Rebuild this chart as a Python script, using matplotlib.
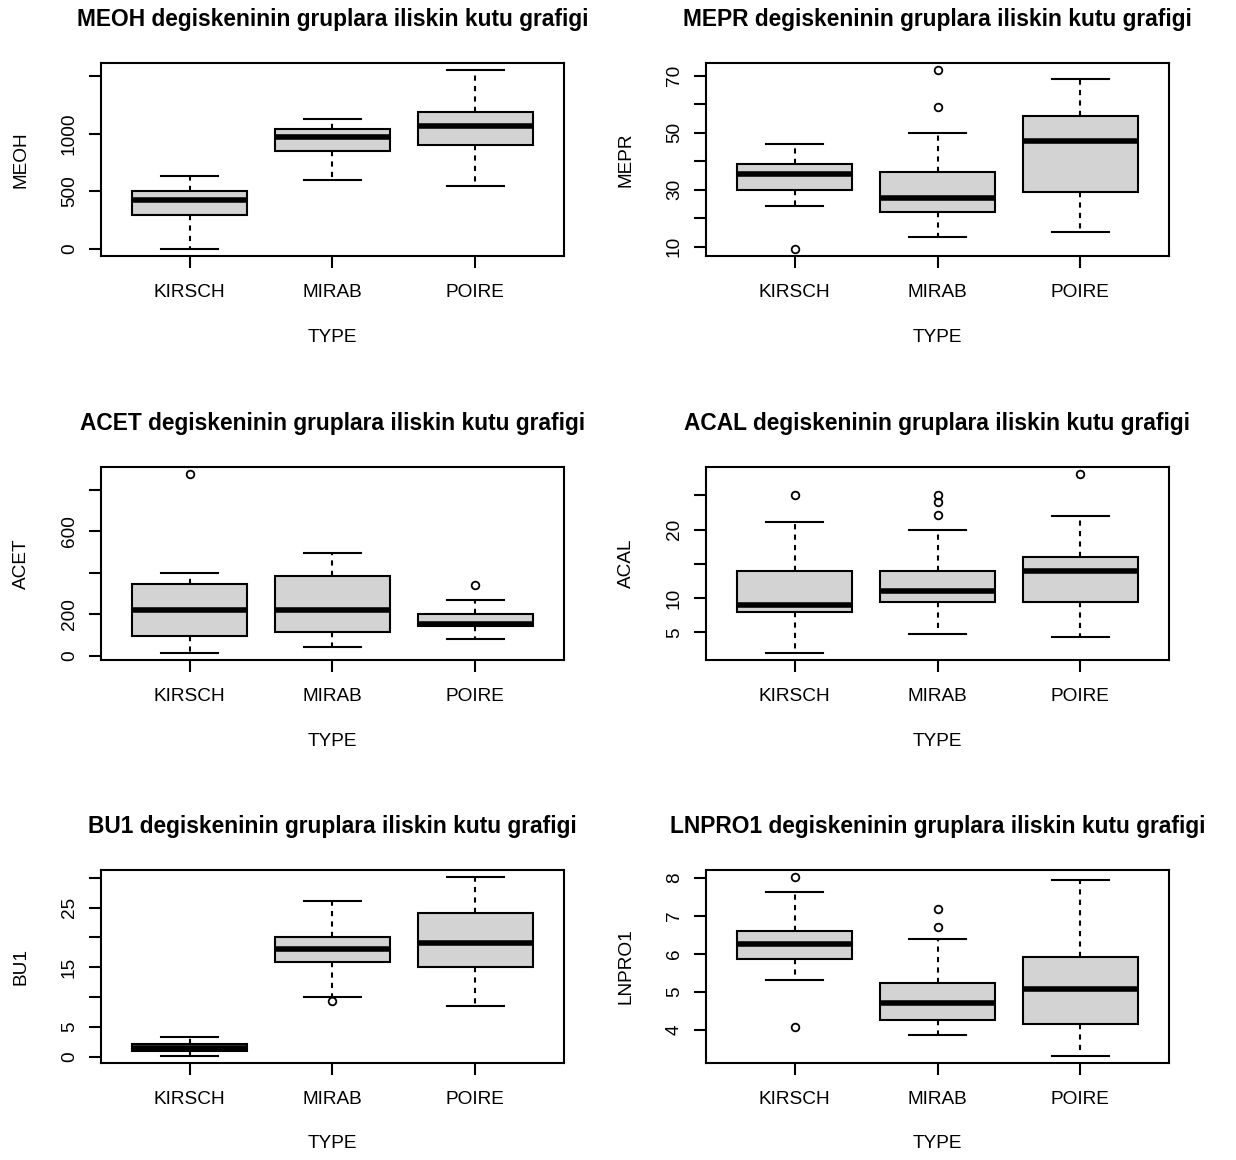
import matplotlib
matplotlib.use("Agg")
import matplotlib.pyplot as plt

plt.rcParams["font.family"] = ["Liberation Sans", "DejaVu Sans"]

groups = ["KIRSCH", "MIRAB", "POIRE"]

# five-number summaries per group: whisker low, Q1, median, Q3, whisker high
meoh_five = [[0, 291, 421, 499, 634], [594, 847, 968, 1043, 1124], [545, 899, 1066, 1190, 1550]]
meoh_out = [[], [], []]

mepr_five = [[24.2, 30.0, 35.6, 39.1, 46.0], [13.2, 22.0, 27.1, 36.1, 50.0], [15.1, 29.1, 47.1, 56.0, 68.9]]
mepr_out = [[9.2], [59.0, 72.0], []]

acet_five = [[14, 96, 222, 344, 398], [42, 115, 218, 382, 496], [80, 142, 155, 203, 269]]
acet_out = [[874], [], [339]]

acal_five = [[2.0, 7.9, 9.0, 14.0, 21.1], [4.7, 9.5, 11.0, 14.0, 20.0], [4.3, 9.5, 14.0, 16.0, 22.0]]
acal_out = [[25.0], [22.1, 24.1, 25.0], [28.1]]

bu1_five = [[0.17, 0.9, 1.5, 2.2, 3.3], [10.05, 15.9, 18.1, 20.0, 26.1], [8.6, 15.0, 19.1, 24.1, 30.1]]
bu1_out = [[], [9.3], []]

lnpro1_five = [[5.32, 5.86, 6.26, 6.60, 7.64], [3.85, 4.25, 4.69, 5.22, 6.40], [3.31, 4.14, 5.06, 5.92, 7.94]]
lnpro1_out = [[4.08, 8.02], [6.71, 7.18], []]

# y ticks and their printed labels (empty where R drops a crowded label)
meoh_ticks, meoh_labels = [0, 500, 1000, 1500], ["0", "500", "1000", ""]
mepr_ticks, mepr_labels = [10, 20, 30, 40, 50, 60, 70], ["10", "", "30", "", "50", "", "70"]
acet_ticks, acet_labels = [0, 200, 400, 600, 800], ["0", "200", "", "600", ""]
acal_ticks, acal_labels = [5, 10, 15, 20, 25], ["5", "10", "", "20", ""]
bu1_ticks, bu1_labels = [0, 5, 10, 15, 20, 25, 30], ["0", "5", "", "15", "", "25", ""]
lnpro1_ticks, lnpro1_labels = [4, 5, 6, 7, 8], ["4", "5", "6", "7", "8"]

panels = [
    ("MEOH", meoh_five, meoh_out, meoh_ticks, meoh_labels),
    ("MEPR", mepr_five, mepr_out, mepr_ticks, mepr_labels),
    ("ACET", acet_five, acet_out, acet_ticks, acet_labels),
    ("ACAL", acal_five, acal_out, acal_ticks, acal_labels),
    ("BU1", bu1_five, bu1_out, bu1_ticks, bu1_labels),
    ("LNPRO1", lnpro1_five, lnpro1_out, lnpro1_ticks, lnpro1_labels),
]

W, H = 1236, 1160
fig = plt.figure(figsize=(W / 100, H / 100), dpi=100)

col_left = [101, 706]
row_top = [63, 467, 870]
ax_w, ax_h = 463, 193

for i, (name, five, out, ticks, labels) in enumerate(panels):
    r, c = divmod(i, 2)
    ax = fig.add_axes([col_left[c] / W, 1 - (row_top[r] + ax_h) / H, ax_w / W, ax_h / H])

    stats = []
    for g, f, o in zip(groups, five, out):
        stats.append(dict(label=g, whislo=f[0], q1=f[1], med=f[2], q3=f[3], whishi=f[4], fliers=o))

    ax.bxp(stats, positions=[1, 2, 3], widths=0.8, capwidths=0.4, patch_artist=True,
           boxprops=dict(facecolor="#d3d3d3", edgecolor="black", linewidth=1.5),
           medianprops=dict(color="black", linewidth=4, solid_capstyle="butt"),
           whiskerprops=dict(color="black", linewidth=1.5, linestyle=(0, (2.5, 2.5))),
           capprops=dict(color="black", linewidth=1.5),
           flierprops=dict(marker="o", markerfacecolor="none", markeredgecolor="black",
                           markersize=5.5, markeredgewidth=1.3))

    # R-style limits: data range plus 4% on each side
    lo = min([f[0] for f in five] + [v for o in out for v in o])
    hi = max([f[4] for f in five] + [v for o in out for v in o])
    span = hi - lo
    ax.set_ylim(lo - 0.04 * span, hi + 0.04 * span)
    ax.set_xlim(0.38, 3.62)

    ax.set_yticks(ticks)
    ax.set_yticklabels(labels, rotation=90, va="center")
    ax.set_xticks([1, 2, 3])
    ax.set_xticklabels(groups)
    ax.tick_params(axis="both", length=8.6, width=1.5, labelsize=13.7, direction="out")
    ax.tick_params(axis="y", pad=8)
    ax.tick_params(axis="x", pad=11.5)
    for s in ax.spines.values():
        s.set_linewidth(1.5)

    ax.set_xlabel("TYPE", fontsize=13.7, va="center")
    ax.xaxis.set_label_coords(0.5, -81 / ax_h)
    ax.set_ylabel(name, fontsize=13.7, va="center")
    ax.yaxis.set_label_coords(-80 / ax_w, 0.5)

    ax.annotate(name + " degiskeninin gruplara iliskin kutu grafigi", xy=(0.5, 1),
                xycoords="axes fraction", xytext=(0, 31.5), textcoords="offset points",
                ha="center", va="center", fontsize=16.4, fontweight="bold")

fig.savefig("out.png", dpi=100)
